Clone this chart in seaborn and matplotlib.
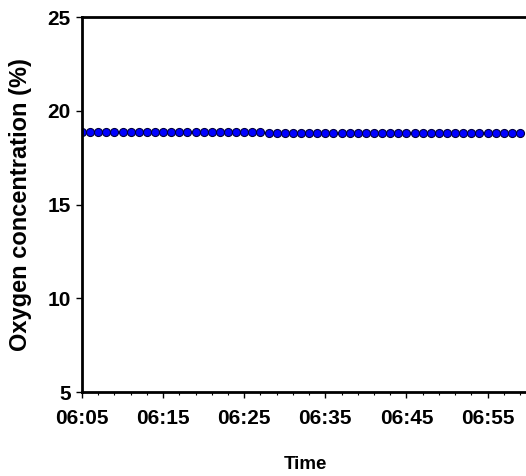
import matplotlib
matplotlib.use("Agg")
import matplotlib.pyplot as plt
import matplotlib.dates as mdates
import pandas as pd
import seaborn as sns

# one reading per minute, 06:05 - 06:59
times = pd.date_range("2020-01-01 06:05", "2020-01-01 06:59", freq="1min")
oxygen = [18.85] * 23 + [18.8] * 32

df = pd.DataFrame({"Time": times, "Oxygen": oxygen})

sns.set_theme(style="white")
plt.rcParams["font.family"] = ["Liberation Sans", "DejaVu Sans"]
plt.rcParams["text.color"] = "black"
plt.rcParams["axes.labelcolor"] = "black"
plt.rcParams["xtick.color"] = "black"
plt.rcParams["ytick.color"] = "black"

fig = plt.figure(figsize=(5.26, 4.76), dpi=100)
ax = fig.add_axes([0.156, 0.176, 0.848, 0.788])

sns.lineplot(data=df, x="Time", y="Oxygen", ax=ax, color="#202020", linewidth=0.8,
             marker="o", markersize=5.8, markerfacecolor="#0000ff",
             markeredgecolor="#000040", markeredgewidth=0.8)

ax.set_ylim(5, 25)
ax.set_yticks([5, 10, 15, 20, 25])
ax.set_xlim(pd.Timestamp("2020-01-01 06:05"), pd.Timestamp("2020-01-01 07:00"))
ax.xaxis.set_major_locator(mdates.MinuteLocator(byminute=[5, 15, 25, 35, 45, 55]))
ax.xaxis.set_minor_locator(mdates.MinuteLocator(byminute=range(5, 60, 2)))
ax.xaxis.set_major_formatter(mdates.DateFormatter("%H:%M"))

ax.set_xlabel("Time", fontsize=13.5, fontweight="bold", labelpad=20)
ax.set_ylabel("Oxygen concentration (%)", fontsize=17, fontweight="bold", labelpad=11)
for lab in ax.get_xticklabels() + ax.get_yticklabels():
    lab.set_fontweight("bold")
ax.tick_params(axis="both", which="major", labelsize=15, direction="out",
               length=4, width=1, bottom=True, left=True, pad=4)
ax.tick_params(axis="x", which="major", pad=8)
ax.tick_params(axis="x", which="minor", direction="out", length=2, width=0.8,
               bottom=True)

for side in ["left", "bottom", "top"]:
    ax.spines[side].set_color("black")
    ax.spines[side].set_linewidth(2)
ax.spines["right"].set_color("#888888")
ax.spines["right"].set_linewidth(1)

fig.savefig("out.png", dpi=100)
